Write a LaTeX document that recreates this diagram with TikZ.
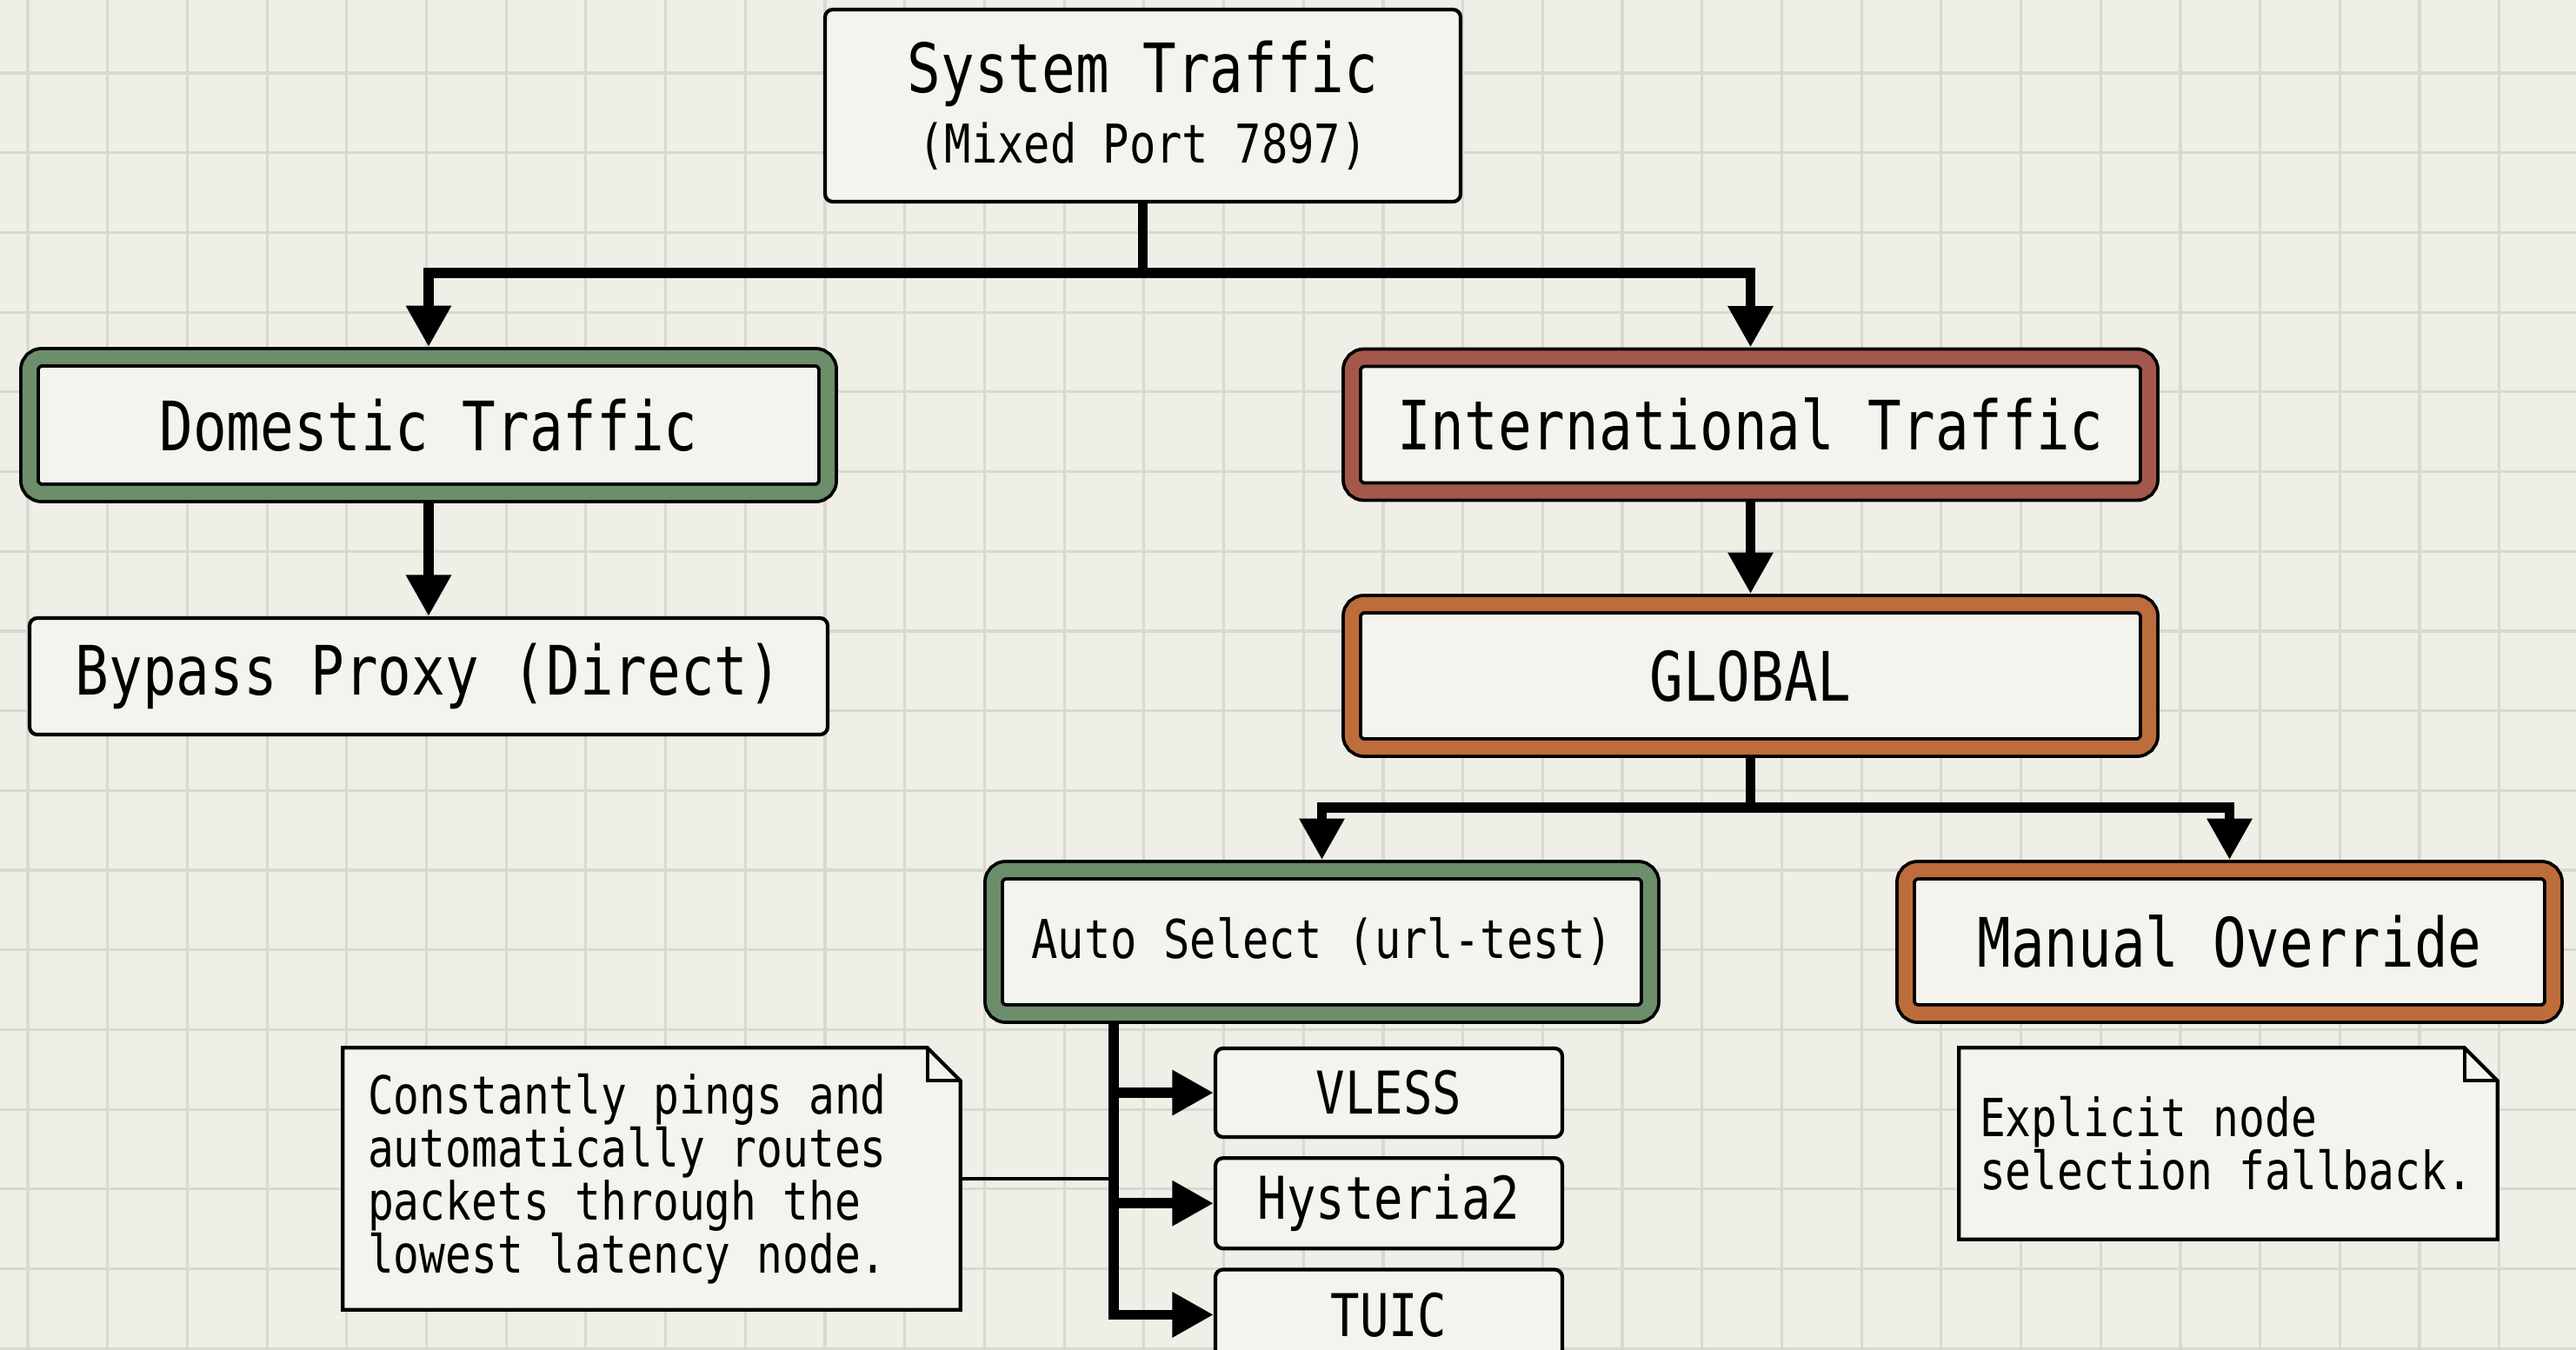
\documentclass[tikz,border=0pt]{standalone}
\usepackage{fontspec}
\usepackage{tikz}
\usetikzlibrary{arrows.meta,positioning}
\newfontfamily\diafont[FakeStretch=0.82]{DejaVu Sans Mono}
\newcommand\bigtxt{\fontsize{22.3}{23}\selectfont}
\newcommand\midtxt{\fontsize{19.3}{21}\selectfont}
\newcommand\smalltxt{\fontsize{17.5}{18}\selectfont}
\newcommand\notetxt{\fontsize{17.2}{17.3}\selectfont}
\definecolor{paper}{HTML}{EFEFE8}
\definecolor{gridgray}{HTML}{D9D9D2}
\definecolor{cardfill}{HTML}{F4F4EF}
\definecolor{sage}{HTML}{6C8E6A}
\definecolor{brick}{HTML}{A4584C}
\definecolor{rust}{HTML}{BD6C3B}

\tikzset{
	card/.style={draw=black,line width=1.2pt,rounded corners=2.5pt,fill=cardfill,inner sep=0pt,align=center,font=\diafont\bigtxt},
	framed/.style={card,line width=1.1pt,rounded corners=4pt,double=#1,double distance=4.6pt,outer sep=3.4pt},
	memo/.style={fill=cardfill,inner sep=0pt,inner xsep=0.28cm,align=flush left,font=\diafont\notetxt},
	feed/.style={line width=3.3pt,-{Triangle[length=13.5pt,width=14pt]}},
	tie/.style={line width=1.3pt}
}

\begin{document}
\begin{tikzpicture}[x=1cm,y=1cm]
	\useasboundingbox (0,0) rectangle (29.63,-15.52);
	\fill[paper] (0,0) rectangle (29.63,-15.52);
	\draw[gridgray,line width=0.9pt,shift={(0.32,-0.84)}] (-0.4,-14.8) grid[step=0.917] (29.4,0.9);

	\node[card,minimum width=7.31cm,minimum height=2.21cm] (sys) at (13.145,-1.215) {System Traffic\\{\smalltxt (Mixed Port 7897)}};
	\node[framed=sage,minimum width=9.18cm,minimum height=1.56cm] (dom) at (4.93,-4.89) {Domestic Traffic};
	\node[framed=brick,minimum width=9.17cm,minimum height=1.54cm] (intl) at (20.135,-4.885) {International Traffic};
	\node[card,minimum width=9.18cm,minimum height=1.34cm] (direct) at (4.93,-7.78) {Bypass Proxy (Direct)};
	\node[framed=rust,minimum width=9.17cm,minimum height=1.65cm] (glob) at (20.135,-7.775) {GLOBAL};
	\node[framed=sage,minimum width=7.55cm,minimum height=1.65cm,font=\diafont\smalltxt] (auto) at (15.205,-10.835) {Auto Select (url-test)};
	\node[framed=rust,minimum width=7.45cm,minimum height=1.65cm] (manual) at (25.645,-10.835) {Manual Override};
	\node[card,minimum width=3.99cm,minimum height=1.02cm,font=\diafont\midtxt] (vless) at (15.975,-12.57) {VLESS};
	\node[card,minimum width=3.99cm,minimum height=1.04cm,font=\diafont\midtxt,below=0.2cm of vless] (hy2) {Hysteria2};
	\node[card,minimum width=3.99cm,minimum height=1.04cm,font=\diafont\midtxt,below=0.2cm of hy2] (tuic) {TUIC};
	\node[memo,minimum height=3cm,text width=6.53cm] (note1) at (7.495,-13.56) {Constantly pings and\\automatically routes\\packets through the\\lowest latency node.};
	\node[memo,inner xsep=0.23cm,minimum height=2.19cm,text width=5.72cm] (note2) at (25.63,-13.155) {Explicit node\\selection fallback.};

	\foreach \n in {note1,note2}{
		\fill[paper] (\n.north east) -- ([xshift=-0.38cm]\n.north east) -- ([yshift=-0.38cm]\n.north east) -- cycle;
		\draw[line width=1.2pt] (\n.north west) -- ([xshift=-0.38cm]\n.north east) -- ([yshift=-0.38cm]\n.north east) -- (\n.south east) -- (\n.south west) -- cycle;
		\draw[line width=1.2pt] ([xshift=-0.38cm]\n.north east) |- ([yshift=-0.38cm]\n.north east);
	}

	\draw[feed] (sys.south) -- ++(0,-0.8) coordinate (split) -| (dom.north);
	\draw[feed] (split) -| (intl.north);
	\draw[feed] (dom) -- (direct);
	\draw[feed] (intl) -- (glob);
	\draw[feed] (glob.south) -- ++(0,-0.57) coordinate (fork) -| (auto.north);
	\draw[feed] (fork) -| (manual.north);
	\coordinate (trunk) at ([xshift=1.5cm]auto.south west);
	\foreach \leaf in {vless,hy2,tuic}
		\draw[feed] (trunk) |- (\leaf);
	\draw[tie] (note1.east) -- (note1.east -| trunk);
\end{tikzpicture}
\end{document}
